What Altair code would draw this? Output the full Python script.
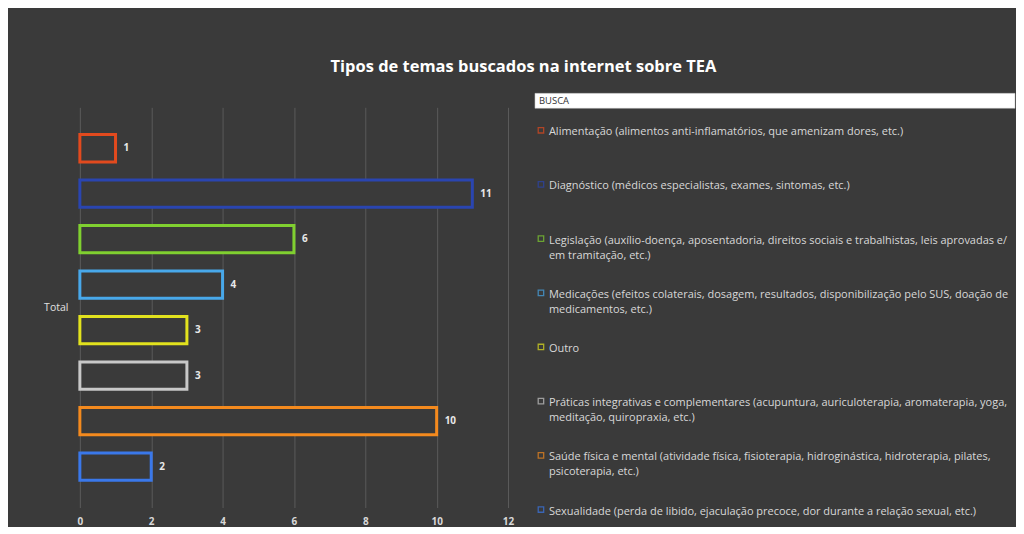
import altair as alt
import pandas as pd

categories = [
    "Alimentação", "Diagnóstico", "Legislação", "Medicações",
    "Outro", "Práticas", "Saúde", "Sexualidade",
]
values = [1, 11, 6, 4, 3, 3, 10, 2]
colors = ["#e24a1e", "#2a45b0", "#80d030", "#48a8ea", "#e2e21e", "#c8c8c8", "#f48a1e", "#3a78ea"]
legend_labels = [
    "Alimentação (alimentos anti-inflamatórios, que amenizam dores, etc.)",
    "Diagnóstico (médicos especialistas, exames, sintomas, etc.)",
    "Legislação (auxílio-doença, aposentadoria, direitos sociais e trabalhistas, leis aprovadas e/ou\nem tramitação, etc.)",
    "Medicações (efeitos colaterais, dosagem, resultados, disponibilização pelo SUS, doação de\nmedicamentos, etc.)",
    "Outro",
    "Práticas integrativas e complementares (acupuntura, auriculoterapia, aromaterapia, yoga,\nmeditação, quiropraxia, etc.)",
    "Saúde física e mental (atividade física, fisioterapia, hidroginástica, hidroterapia, pilates,\npsicoterapia, etc.)",
    "Sexualidade (perda de libido, ejaculação precoce, dor durante a relação sexual, etc.)",
]
x_ticks = [0, 2, 4, 6, 8, 10, 12]
legend_title = "BUSCA"
title_text = "Tipos de temas buscados na internet sobre TEA"

df = pd.DataFrame({"cat": categories, "val": values, "label": legend_labels})

BG = "#3a3a3a"
color_scale = alt.Scale(domain=categories, range=colors)

base = alt.Chart(df)

bars = base.mark_bar(fill=BG, strokeWidth=3).encode(
    x=alt.X("val:Q", scale=alt.Scale(domain=[0, 12], nice=False),
            axis=alt.Axis(values=x_ticks, title=None, grid=True, gridColor="#5a5a5a",
                          gridWidth=1, domain=False, ticks=False, labelColor="#d8d8d8",
                          labelFontSize=10, labelFontWeight="bold", labelFont="Open Sans",
                          labelPadding=9, labelFlush=False)),
    y=alt.Y("cat:N", sort=categories,
            scale=alt.Scale(paddingInner=0.4, paddingOuter=0.6),
            axis=alt.Axis(labels=False, ticks=False, domain=False, title="Total",
                          titleAngle=0, titleAlign="right", titleBaseline="middle",
                          titleX=-12, titleY=201, titleColor="#e0e0e0",
                          titleFontSize=10.5, titleFontWeight="normal", titleFont="Open Sans")),
    stroke=alt.Stroke("cat:N", scale=color_scale, legend=None),
)

labels = base.mark_text(align="left", baseline="middle", dx=8, color="#e8e8e8",
                        fontSize=10, fontWeight="bold", font="Open Sans").encode(
    x="val:Q",
    y=alt.Y("cat:N", sort=categories),
    text="val:Q",
)

left = alt.layer(bars, labels).properties(width=429, height=401)

header_box = alt.Chart(pd.DataFrame({"t": [legend_title]})).mark_rect(
    fill="#ffffff", stroke="#bbbbbb", strokeWidth=0.5
).encode(x=alt.value(0), x2=alt.value(481), y=alt.value(-14), y2=alt.value(1))

header_text = alt.Chart(pd.DataFrame({"t": [legend_title]})).mark_text(
    align="left", baseline="middle", color="#333333", fontSize=9.5, font="Open Sans"
).encode(x=alt.value(4), y=alt.value(-6.5), text="t:N")

ypos = alt.Y("cat:N", sort=categories,
             scale=alt.Scale(type="point", range=[23, 403], padding=0), axis=None)

markers = base.mark_point(shape="square", filled=False, size=30, strokeWidth=1.3).encode(
    x=alt.value(6),
    y=ypos,
    color=alt.Color("cat:N", scale=color_scale, legend=None),
)

legend_txt = base.mark_text(align="left", baseline="top", dy=-4, color="#d8d8d8",
                            fontSize=11, font="Open Sans", lineBreak="\n", lineHeight=15,
                            limit=466, ellipsis="\u200b").encode(
    x=alt.value(14),
    y=ypos,
    text="label:N",
)

right = alt.layer(header_box, header_text, markers, legend_txt).properties(width=481, height=401)

chart = alt.hconcat(left, right, spacing=27, bounds="flush").properties(
    title=alt.TitleParams(title_text, color="#ffffff", fontSize=16.5, fontWeight="bold",
                          font="Open Sans", anchor="middle", offset=18, dx=-6),
    padding={"left": 35, "top": 50, "right": 0, "bottom": 0},
    background=BG,
).configure_view(stroke=None)

chart.save("out.html", embed_options={"renderer": "svg", "actions": False})
